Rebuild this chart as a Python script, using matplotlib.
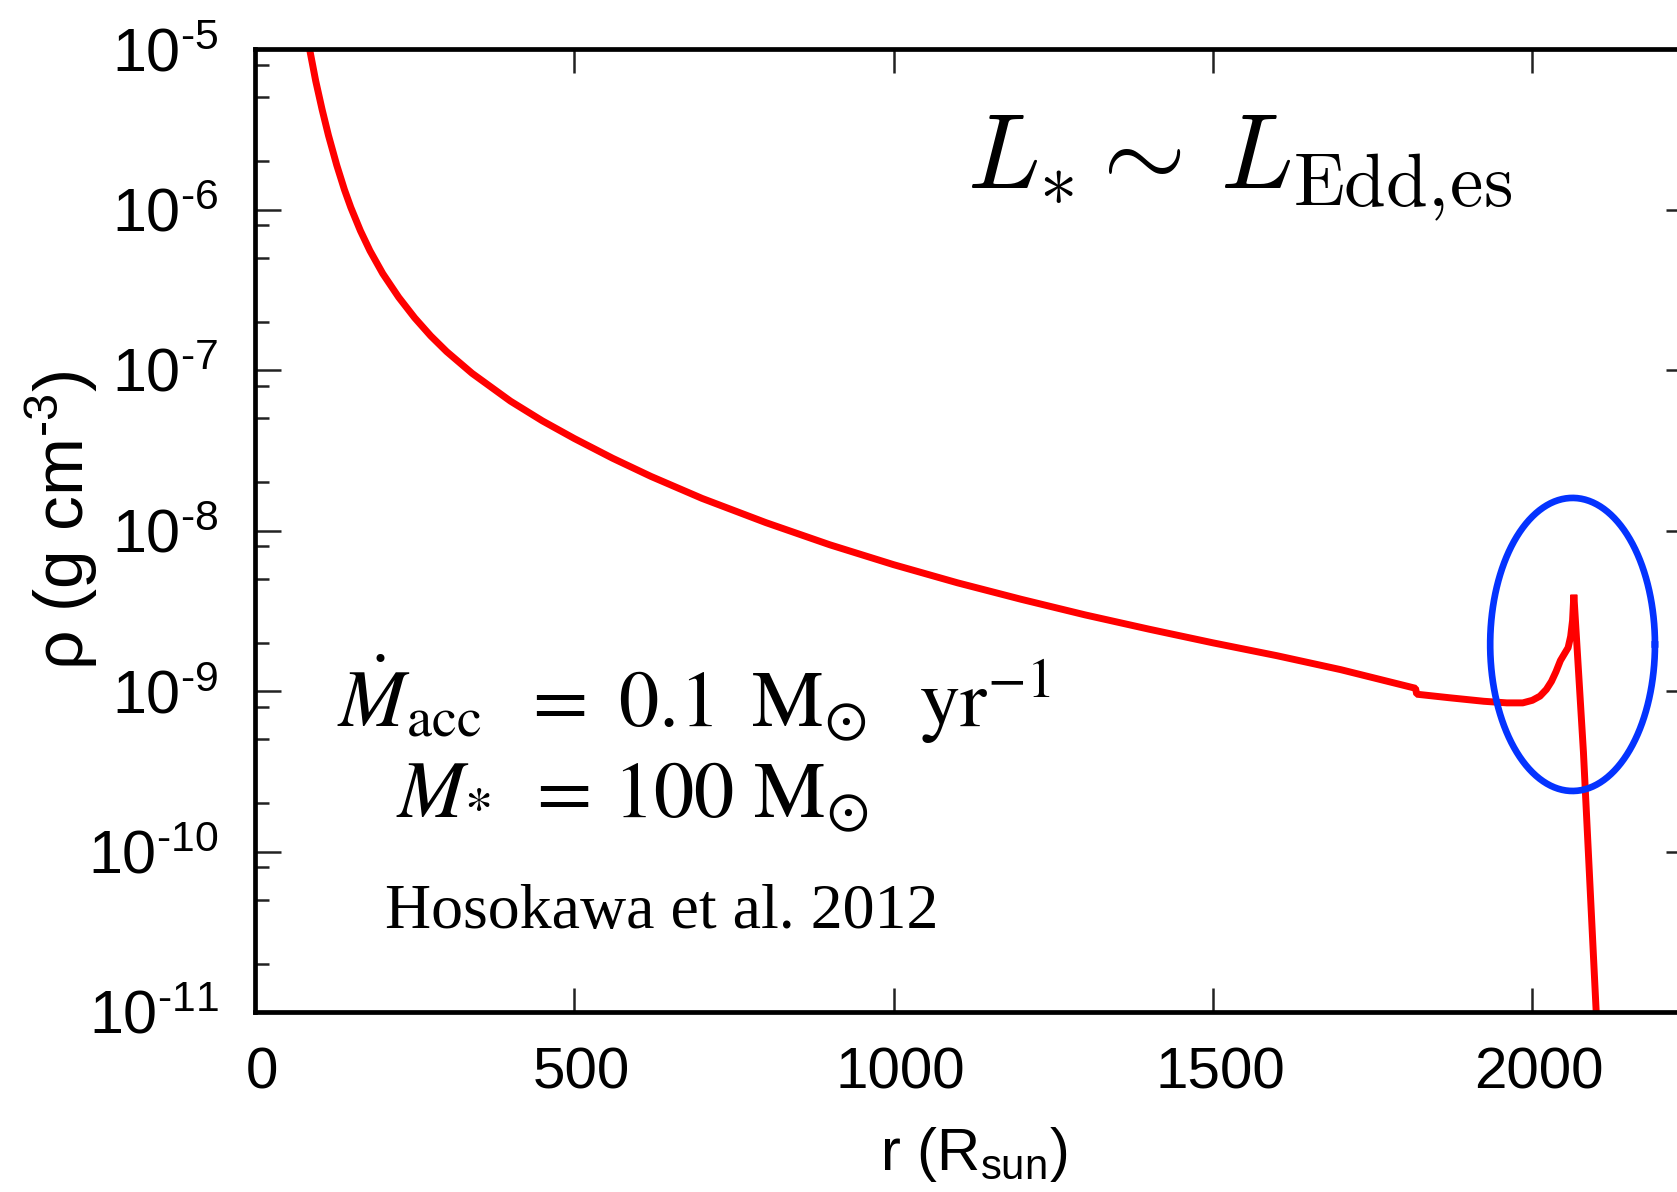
import numpy as np
import matplotlib.pyplot as plt
import matplotlib.transforms as mtransforms
from matplotlib.ticker import FixedLocator, FuncFormatter, NullFormatter

plt.rcParams['font.family'] = ['Liberation Sans', 'DejaVu Sans']
plt.rcParams['mathtext.fontset'] = 'custom'
plt.rcParams['mathtext.rm'] = 'Liberation Sans'
plt.rcParams['mathtext.it'] = 'Liberation Sans:italic'
plt.rcParams['mathtext.bf'] = 'Liberation Sans:bold'
plt.rcParams['mathtext.sf'] = 'Liberation Sans'

# density profile (r in R_sun, log10 rho in g cm^-3)
r_vals = [84, 95, 105, 115, 128, 140, 150, 165, 180, 200, 225, 250, 275, 300,
          340, 400, 450, 500, 560, 620, 700, 800, 900, 1000, 1100, 1200, 1300,
          1400, 1500, 1600, 1700, 1817, 1819, 1870, 1924, 1960, 1985, 2000,
          2012, 2022, 2030, 2037, 2044, 2050, 2056, 2060, 2063, 2065, 2080,
          2100, 2104]
log_rho = [-4.97, -5.198, -5.376, -5.538, -5.724, -5.876, -5.987, -6.132,
           -6.257, -6.399, -6.547, -6.675, -6.787, -6.885, -7.021, -7.194,
           -7.317, -7.427, -7.55, -7.663, -7.80, -7.951, -8.089, -8.213,
           -8.326, -8.429, -8.526, -8.615, -8.70, -8.78, -8.867, -8.983,
           -9.02, -9.042, -9.064, -9.074, -9.074, -9.058, -9.032, -8.99,
           -8.94, -8.88, -8.81, -8.77, -8.73, -8.66, -8.56, -8.40, -9.38,
           -11.0, -11.3]
rho_vals = [10.0 ** v for v in log_rho]

# highlighted region (blue ellipse) in r / log10(rho)
ell_r, ell_logrho = 2063, -8.71
ell_half_r, ell_half_dex = 129, 0.913

x_ticks = [0, 500, 1000, 1500, 2000]
y_exps = [-11, -10, -9, -8, -7, -6, -5]
y_ticks = [10.0 ** k for k in y_exps]
y_minor = [m * 10.0 ** k for k in y_exps[:-1] for m in (2, 5, 8)]

fig = plt.figure(figsize=(16.77, 11.92), dpi=100)
ax = fig.add_axes([255/1677, 180/1192, 1437/1677, 963/1192])

ax.plot(r_vals, rho_vals, color='#ff0000', lw=5, solid_joinstyle='bevel')

t = np.linspace(0, 2*np.pi, 400)
ax.plot(ell_r + ell_half_r*np.cos(t), 10.0 ** (ell_logrho + ell_half_dex*np.sin(t)),
        color='#0433ff', lw=4.8)

ax.set_yscale('log')
ax.set_xlim(0, 2250)
ax.set_ylim(1e-11, 1e-5)
ax.set_xticks(x_ticks)
ax.yaxis.set_major_locator(FixedLocator(y_ticks))
ax.yaxis.set_minor_locator(FixedLocator(y_minor))
ax.yaxis.set_minor_formatter(NullFormatter())
ax.yaxis.set_major_formatter(FuncFormatter(
    lambda v, p: '$10^{\u2010' + str(int(round(-np.log10(v)))) + '}$'))

ax.tick_params(which='both', direction='in', top=True, right=True, color='#222222')
ax.tick_params(axis='y', which='major', length=19, width=1.8, pad=26, labelsize=44)
ax.tick_params(axis='y', which='minor', length=10, width=1.8)
ax.tick_params(axis='x', which='major', length=17, width=1.8, pad=24.5, labelsize=42)
ax.tick_params(axis='x', which='minor', length=0)

for s in ax.spines.values():
    s.set_linewidth(3.4)

# x tick labels sit a little right of their ticks in the original
off = mtransforms.ScaledTranslation(7/100, 0, fig.dpi_scale_trans)
for lbl in ax.get_xticklabels():
    lbl.set_transform(lbl.get_transform() + off)

ax.set_xlabel('r (R$_{\\rm sun}$)', fontsize=43)
ax.xaxis.set_label_coords(0.5, -0.117)
ax.set_ylabel('\u03c1 (g cm$^{\u20103}$)', fontsize=50)
ax.yaxis.set_label_coords(-0.108, 0.51)

fig.text(967/1677, 1 - 188/1192, r'$L_{*}\sim\,L_{\rm Edd,\!es}$',
         fontsize=77, math_fontfamily='cm', ha='left', va='baseline')
fig.text(337/1677, 1 - 727/1192,
         r'$\dot{M}_{\rm acc}\ \;=\ 0.1\;\;{\rm M}_{\odot}\ \ \,{\rm yr}^{-1}$',
         fontsize=58, math_fontfamily='stix', ha='left', va='baseline')
fig.text(396/1677, 1 - 818/1192, r'$M_{*}\ \,=\,100\ {\rm M}_{\odot}$',
         fontsize=58, math_fontfamily='stix', ha='left', va='baseline')
fig.text(385/1677, 1 - 928/1192, 'Hosokawa et al. 2012',
         fontsize=46, family='Liberation Serif', ha='left', va='baseline')

fig.savefig('out.png', dpi=100)
